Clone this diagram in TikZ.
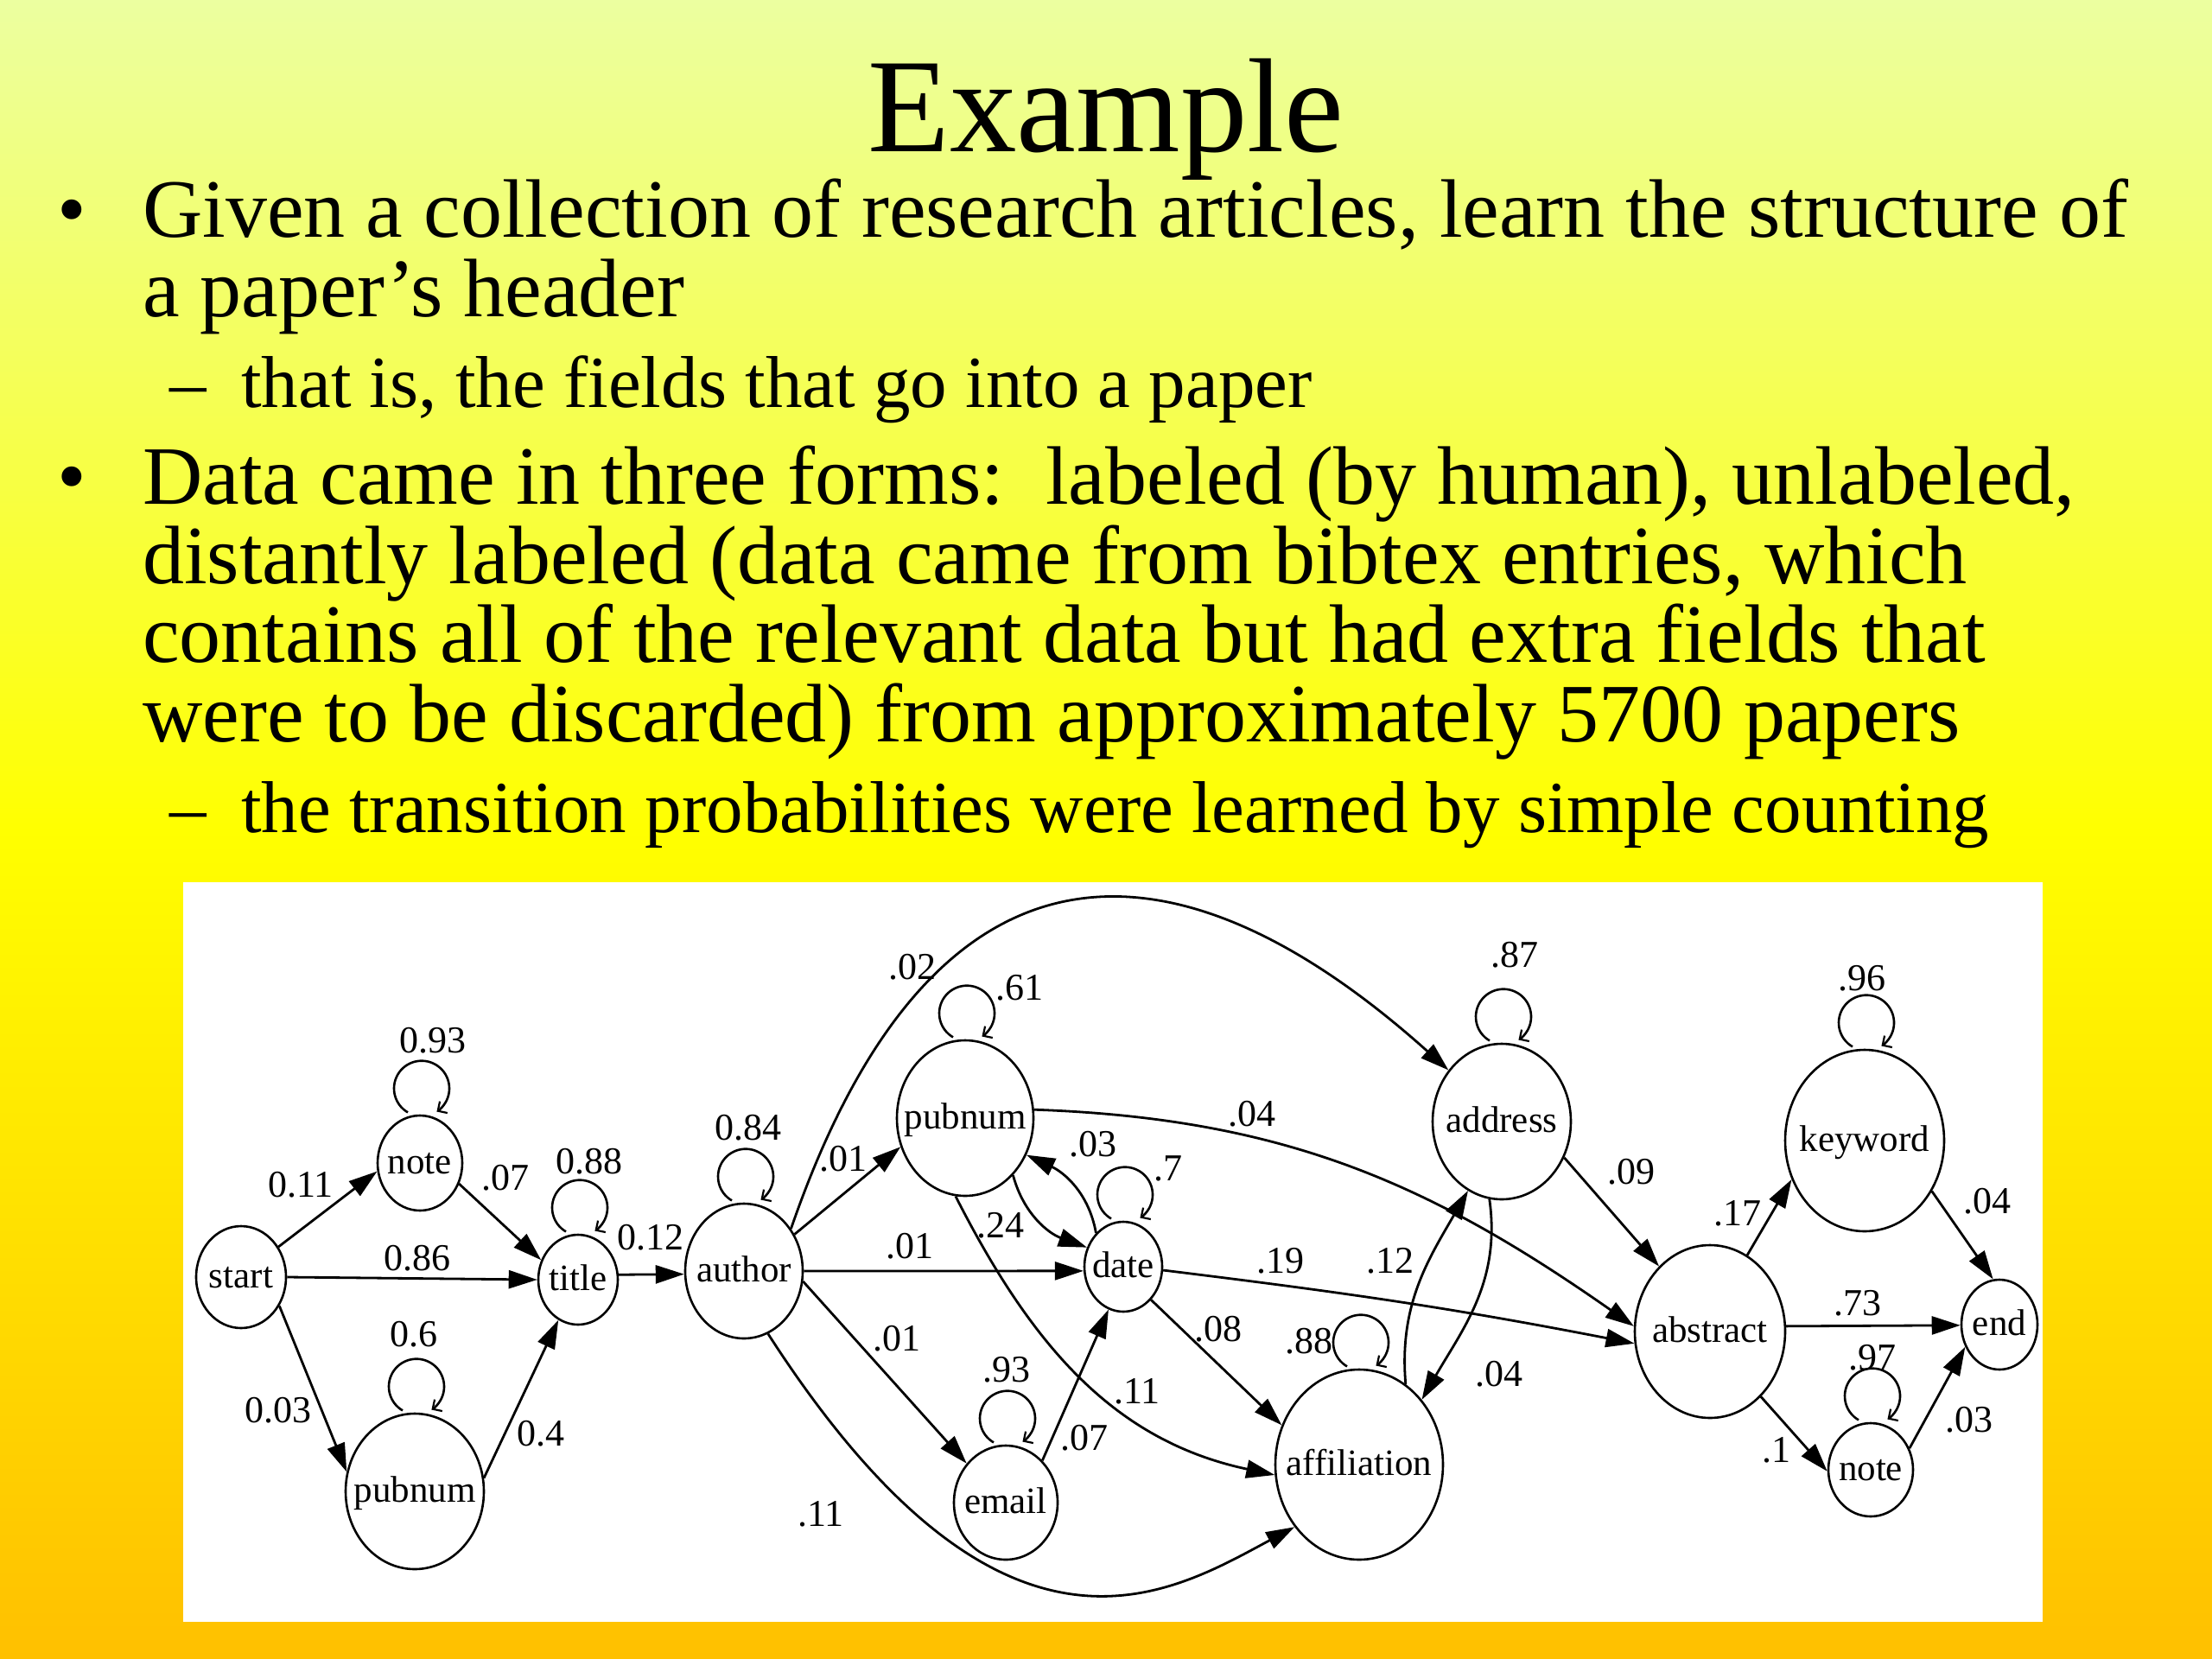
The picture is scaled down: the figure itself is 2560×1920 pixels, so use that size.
\documentclass[tikz,border=0pt]{standalone}
\usepackage{fontspec}
\setmainfont{Liberation Serif}
\usetikzlibrary{arrows.meta,shapes.geometric}
\definecolor{bgtop}{RGB}{236,255,160}
\definecolor{bgmid}{RGB}{255,255,0}
\definecolor{bgbot}{RGB}{255,192,0}
\newcommand{\stlabel}[1]{\smash{\makebox[0pt]{\raisebox{-12pt}{#1}}}}
\begin{document}
\begin{tikzpicture}[x=1pt,y=1pt,
  st/.style={draw, ellipse, line width=2.6pt, inner sep=0pt, font=\fontsize{43}{43}\selectfont},
  sz/.style 2 args={minimum width=#1pt, minimum height=#2pt},
  arr/.style={line width=2.8pt, -{Triangle[length=33pt,width=21pt]}},
  selfloop/.style={line width=2.6pt, -{Straight Barb[length=8pt,width=16pt,line width=2.2pt]}},
  lbl/.style={font=\fontsize{44}{44}\selectfont, inner sep=0pt},
  body/.style={anchor=base west, inner sep=0pt, font=\fontsize{96}{96}\selectfont},
  sub/.style={anchor=base west, inner sep=0pt, font=\fontsize{85}{85}\selectfont},
]
\useasboundingbox (0,0) rectangle (2560,-1920);
% background
\shade[top color=bgtop, bottom color=bgmid] (0,0) rectangle (2560,-961);
\shade[top color=bgmid, bottom color=bgbot] (0,-960) rectangle (2560,-1920);

% slide text
\node[anchor=base, inner sep=0pt, font=\fontsize{155}{155}\selectfont] (heading) at (1280,-175) {Example};
\node[body] (bul1) at (66,-274) {•};
\node[body] (t1a) at (165,-274) {Given a collection of research articles, learn the structure of};
\node[body] (t1b) at (165,-366.7) {a paper’s header};
\node[sub] (d1) at (196,-471.7) {–};
\node[sub] (s1) at (279,-471.7) {that is, the fields that go into a paper};
\node[body] (bul2) at (66,-583.3) {•};
\node[body] (t2a) at (165,-583.3) {Data came in three forms:\ \ labeled (by human), unlabeled,};
\node[body] (t2b) at (165,-675) {distantly labeled (data came from bibtex entries, which};
\node[body] (t2c) at (165,-766.7) {contains all of the relevant data but had extra fields that};
\node[body] (t2d) at (165,-858) {were to be discarded) from approximately 5700 papers};
\node[sub] (d2) at (196,-963) {–};
\node[sub] (s2) at (279,-963) {the transition probabilities were learned by simple counting};

% diagram panel
\fill[white] (212,-1021) rectangle (2364,-1877);

% states
\node[st, sz={104}{118}] (start) at (279,-1478) {\stlabel{start}};
\node[st, sz={98}{110}] (noteL) at (486,-1346) {\stlabel{note}};
\node[st, sz={92}{104}] (ttl) at (669,-1481) {\stlabel{title}};
\node[st, sz={160}{180}] (pubL) at (480,-1726) {\stlabel{pubnum}};
\node[st, sz={136}{156}] (author) at (861,-1471) {\stlabel{author}};
\node[st, sz={158}{180}] (pubM) at (1117,-1294) {\stlabel{pubnum}};
\node[st, sz={90}{104}] (date) at (1300,-1466) {\stlabel{date}};
\node[st, sz={120}{132}] (email) at (1164,-1739) {\stlabel{email}};
\node[st, sz={194}{220}] (affil) at (1573,-1695) {\stlabel{affiliation}};
\node[st, sz={160}{180}] (address) at (1738,-1298) {\stlabel{address}};
\node[st, sz={174}{200}] (abstract) at (1979,-1541) {\stlabel{abstract}};
\node[st, sz={184}{210}] (keyword) at (2158,-1320) {\stlabel{keyword}};
\node[st, sz={98}{108}] (noteR) at (2165,-1701) {\stlabel{note}};
\node[st, sz={88}{104}] (end) at (2314,-1533) {\stlabel{end}};

% straight transitions
\draw[arr] (start.39) -- (noteL.191);
\draw[arr] (start.0) -- (ttl.180);
\draw[arr] (start.-37) -- (pubL.164);
\draw[arr] (noteL.-28) -- (ttl.152);
\draw[arr] (pubL.11) -- (ttl.244);
\draw[arr] (ttl.7) -- (author.183);
\draw[arr] (author.36) -- (pubM.204);
\draw[arr] (author.0) -- (date.186);
\draw[arr] (author.-10) -- (email.135);
\draw[arr] (date.-50) -- (affil.153);
\draw[arr] (email.49) -- (date.251);
\draw[arr] (address.-30) -- (abstract.128);
\draw[arr] (abstract.64) -- (keyword.208);
\draw[arr] (abstract.4) -- (end.181);
\draw[arr] (abstract.-52) -- (noteR.182);
\draw[arr] (keyword.-37) -- (end.98);
\draw[arr] (noteR.29) -- (end.213);

% curved transitions
\draw[arr] (author.42) .. controls (1080,-945) and (1360,-955) .. (address.136);
\draw[arr] (author.-69) .. controls (1160,-1965) and (1353,-1845) .. (affil.224);
\draw[arr] (pubM.-50) to[out=-75, in=160] (date.152);
\draw[arr] (date.129) to[out=100, in=-25] (pubM.-31);
\draw[arr] (pubM.7) to[out=-2, in=145] (abstract.176);
\draw[arr] (pubM.-97) to[out=-63, in=168] (affil.187);
\draw[arr] (date.-5) to[out=-7, in=169] (abstract.189);
\draw[arr] (affil.60) to[out=95, in=240] (address.244);
\draw[arr] (address.261) to[out=-82, in=60] (affil.46);

% self loops
\foreach \n in {noteL,ttl,pubL,author,pubM,date,email,affil,address,keyword,noteR}
  \draw[selfloop] (\n.north) ++(-14,2.3) arc[start angle=240, end angle=-57, radius=32];

% transition probabilities
\foreach \t/\x/\y [count=\i] in {
  0.93/501/1204, 0.11/348/1371, .07/585/1363, 0.88/682/1344, 0.12/753/1432,
  0.84/866/1305, 0.86/483/1456, 0.6/479/1544, 0.03/322/1632, 0.4/626/1659,
  .11/950/1752, .02/1056/1119, .61/1180/1143, .01/976/1341, .03/1265/1324,
  .7/1352/1352, .24/1158/1418, .01/1053/1442, .04/1449/1289, .19/1482/1459,
  .12/1609/1459, .08/1410/1538, .88/1515/1552, .01/1038/1549, .93/1165/1585,
  .11/1316/1610, .07/1255/1664, .87/1753/1105, .96/2155/1132, .09/1888/1356,
  .17/2011/1404, .04/2300/1390, .73/2150/1508, .97/2167/1571, .04/1735/1590,
  .03/2279/1643, .1/2056/1678}
  \node[lbl] (lab\i) at (\x,-\y) {\t};
\end{tikzpicture}
\end{document}
